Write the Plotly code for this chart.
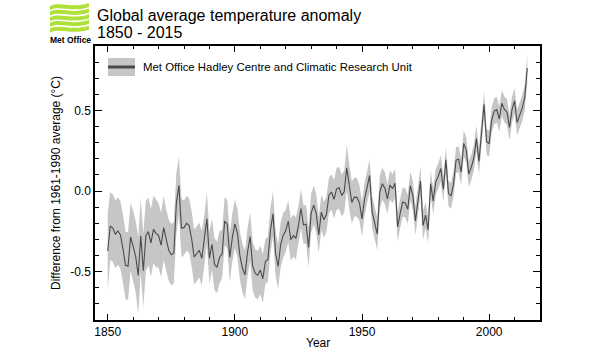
import plotly.graph_objects as go

# ---------------- data ----------------
years = list(range(1850, 2016))
anomaly = [
    -0.373, -0.218, -0.228, -0.269, -0.248, -0.272, -0.358, -0.461, -0.466, -0.284,
    -0.343, -0.407, -0.524, -0.278, -0.494, -0.279, -0.251, -0.321, -0.238, -0.262,
    -0.276, -0.335, -0.227, -0.304, -0.368, -0.395, -0.384, -0.075, 0.035, -0.230,
    -0.227, -0.200, -0.213, -0.296, -0.409, -0.389, -0.367, -0.418, -0.307, -0.171,
    -0.416, -0.330, -0.455, -0.473, -0.410, -0.390, -0.186, -0.206, -0.412, -0.289,
    -0.203, -0.259, -0.402, -0.479, -0.520, -0.377, -0.283, -0.465, -0.511, -0.522,
    -0.490, -0.544, -0.437, -0.424, -0.244, -0.141, -0.383, -0.468, -0.333, -0.275,
    -0.247, -0.187, -0.302, -0.276, -0.294, -0.215, -0.108, -0.210, -0.206, -0.350,
    -0.137, -0.087, -0.137, -0.273, -0.131, -0.178, -0.147, -0.026, -0.006, -0.052,
    0.014, 0.020, -0.027, -0.004, 0.144, 0.025, -0.071, -0.038, -0.039, -0.074,
    -0.173, -0.052, 0.028, 0.097, -0.129, -0.190, -0.267, -0.007, 0.046, 0.017,
    -0.049, 0.038, 0.014, 0.048, -0.223, -0.140, -0.068, -0.074, -0.113, 0.032,
    -0.027, -0.186, -0.065, 0.062, -0.214, -0.149, -0.241, 0.047, -0.062, 0.057,
    0.092, 0.140, 0.011, 0.194, -0.014, -0.030, 0.045, 0.192, 0.198, 0.118,
    0.296, 0.254, 0.105, 0.148, 0.208, 0.325, 0.183, 0.390, 0.539, 0.306,
    0.294, 0.441, 0.496, 0.505, 0.447, 0.545, 0.506, 0.491, 0.395, 0.506,
    0.560, 0.425, 0.470, 0.514, 0.579, 0.763,
]
# half-width of the uncertainty band for each year
uncertainty = [
    0.24, 0.21, 0.21, 0.21, 0.21, 0.21, 0.21, 0.21, 0.21, 0.21,
    0.22, 0.22, 0.24, 0.23, 0.23, 0.22, 0.21, 0.21, 0.21, 0.21,
    0.20, 0.20, 0.20, 0.19, 0.19, 0.19, 0.19, 0.19, 0.18, 0.18,
    0.17, 0.17, 0.17, 0.17, 0.17, 0.17, 0.17, 0.17, 0.16, 0.16,
    0.16, 0.16, 0.16, 0.16, 0.16, 0.15, 0.15, 0.15, 0.15, 0.15,
    0.15, 0.15, 0.15, 0.15, 0.15, 0.15, 0.15, 0.15, 0.15, 0.15,
    0.15, 0.15, 0.14, 0.14, 0.14, 0.14, 0.14, 0.14, 0.14, 0.14,
    0.13, 0.13, 0.13, 0.13, 0.13, 0.12, 0.12, 0.12, 0.12, 0.12,
    0.12, 0.12, 0.12, 0.11, 0.11, 0.11, 0.11, 0.11, 0.11, 0.12,
    0.13, 0.13, 0.13, 0.13, 0.14, 0.14, 0.13, 0.12, 0.12, 0.11,
    0.11, 0.10, 0.10, 0.10, 0.10, 0.10, 0.10, 0.10, 0.10, 0.10,
    0.09, 0.09, 0.09, 0.09, 0.09, 0.09, 0.09, 0.09, 0.09, 0.09,
    0.09, 0.09, 0.09, 0.09, 0.09, 0.08, 0.08, 0.08, 0.08, 0.08,
    0.08, 0.08, 0.08, 0.08, 0.08, 0.08, 0.08, 0.08, 0.08, 0.08,
    0.08, 0.08, 0.08, 0.08, 0.08, 0.08, 0.08, 0.08, 0.08, 0.08,
    0.08, 0.08, 0.08, 0.08, 0.08, 0.08, 0.08, 0.08, 0.08, 0.08,
    0.08, 0.08, 0.08, 0.08, 0.08, 0.09,
]
x_tickvals = [1850, 1900, 1950, 2000]
x_ticktext = ["1850", "1900", "1950", "2000"]
y_tickvals = [-0.5, 0.0, 0.5]
y_ticktext = ["-0.5", "0.0", "0.5"]
title_line1 = "Global average temperature anomaly"
title_line2 = "1850 - 2015"
legend_label = "Met Office Hadley Centre and Climatic Research Unit"
x_title = "Year"
y_title = "Difference from 1961-1990 average (°C)"
logo_text = "Met Office"

upper = [v + u for v, u in zip(anomaly, uncertainty)]
lower = [v - u for v, u in zip(anomaly, uncertainty)]

# ---------------- layout geometry ----------------
W, H = 590, 355
L, R, T, B = 95, 540, 46, 320
FONT = "Liberation Sans, Arial, Helvetica, sans-serif"
BAND = "#c6c6c6"
LINE = "#4a4a4a"


def px(x):
    return (x - L) / (R - L)


def py(y):
    return (B - y) / (B - T)


fig = go.Figure()
fig.add_trace(go.Scatter(x=years, y=upper, mode="lines", line=dict(width=0, color=BAND),
                         showlegend=False, hoverinfo="skip"))
fig.add_trace(go.Scatter(x=years, y=lower, mode="lines", line=dict(width=0, color=BAND),
                         fill="tonexty", fillcolor=BAND, showlegend=False, hoverinfo="skip"))
fig.add_trace(go.Scatter(x=years, y=anomaly, mode="lines", line=dict(width=1.1, color=LINE),
                         showlegend=False, name=legend_label))

axis_common = dict(
    showgrid=False, zeroline=False, showline=True, linecolor="black", linewidth=1.5,
    mirror="ticks", ticks="inside", tickcolor="black", tickwidth=1,
    tickfont=dict(family=FONT, size=12, color="black"),
)
fig.update_xaxes(range=[1845, 2020], tickvals=x_tickvals, ticktext=x_ticktext, ticklen=6,
                 minor=dict(dtick=10, tick0=1850, ticks="inside", ticklen=3.5, tickcolor="black", tickwidth=1),
                 **axis_common)
fig.update_yaxes(range=[-0.8, 0.9], tickvals=y_tickvals, ticktext=y_ticktext, ticklen=7,
                 minor=dict(dtick=0.1, tick0=0, ticks="inside", ticklen=4, tickcolor="black", tickwidth=1),
                 **axis_common)

shapes = []
# legend symbol
shapes.append(dict(type="rect", xref="paper", yref="paper", x0=px(108), x1=px(135), y0=py(76), y1=py(58),
                   fillcolor=BAND, line=dict(width=0), layer="above"))
shapes.append(dict(type="line", xref="paper", yref="paper", x0=px(108), x1=px(135), y0=py(67), y1=py(67),
                   line=dict(color=LINE, width=3), layer="above"))

# logo waves
GREEN = "#b0e03a"
for i in range(5):
    y0 = 4 + 5.6 * i
    pts_top = [(50, y0 + 2), (60, y0 - 3), (72, y0 + 5), (89, y0 - 1)]
    pts_bot = [(89, y0 + 3), (72, y0 + 9), (60, y0 + 1), (50, y0 + 6)]

    def P(p):
        return f"{px(p[0]):.5f},{py(p[1]):.5f}"
    path = (f"M {P(pts_top[0])} C {P(pts_top[1])} {P(pts_top[2])} {P(pts_top[3])} "
            f"L {P(pts_bot[0])} C {P(pts_bot[1])} {P(pts_bot[2])} {P(pts_bot[3])} Z")
    shapes.append(dict(type="path", xref="paper", yref="paper", path=path,
                       fillcolor=GREEN, line=dict(width=0)))

annotations = [
    dict(text=title_line1, xref="paper", yref="paper", x=px(95), y=py(15.5), xanchor="left", yanchor="middle",
         showarrow=False, font=dict(family=FONT, size=16, color="black")),
    dict(text=title_line2, xref="paper", yref="paper", x=px(95), y=py(33), xanchor="left", yanchor="middle",
         showarrow=False, font=dict(family=FONT, size=16, color="black")),
    dict(text=legend_label, xref="paper", yref="paper", x=px(141), y=py(67), xanchor="left", yanchor="middle",
         showarrow=False, font=dict(family=FONT, size=11.4, color="black")),
    dict(text=x_title, xref="paper", yref="paper", x=0.5, y=py(343), xanchor="center", yanchor="middle",
         showarrow=False, font=dict(family=FONT, size=12, color="black")),
    dict(text=y_title, xref="paper", yref="paper", x=px(56), y=py(183), xanchor="center", yanchor="middle",
         textangle=-90, showarrow=False, font=dict(family=FONT, size=12, color="black")),
    dict(text="<b>" + logo_text + "</b>", xref="paper", yref="paper", x=px(70), y=py(40), xanchor="center",
         yanchor="middle", showarrow=False, font=dict(family=FONT, size=8.5, color="black")),
]

fig.update_layout(
    width=W, height=H, autosize=False,
    margin=dict(l=L, r=W - R, t=T, b=H - B, pad=0),
    paper_bgcolor="white", plot_bgcolor="white",
    showlegend=False, shapes=shapes, annotations=annotations,
)
fig.write_html("out.html", config={"displayModeBar": False},
               post_script="document.body.style.margin='0';")
